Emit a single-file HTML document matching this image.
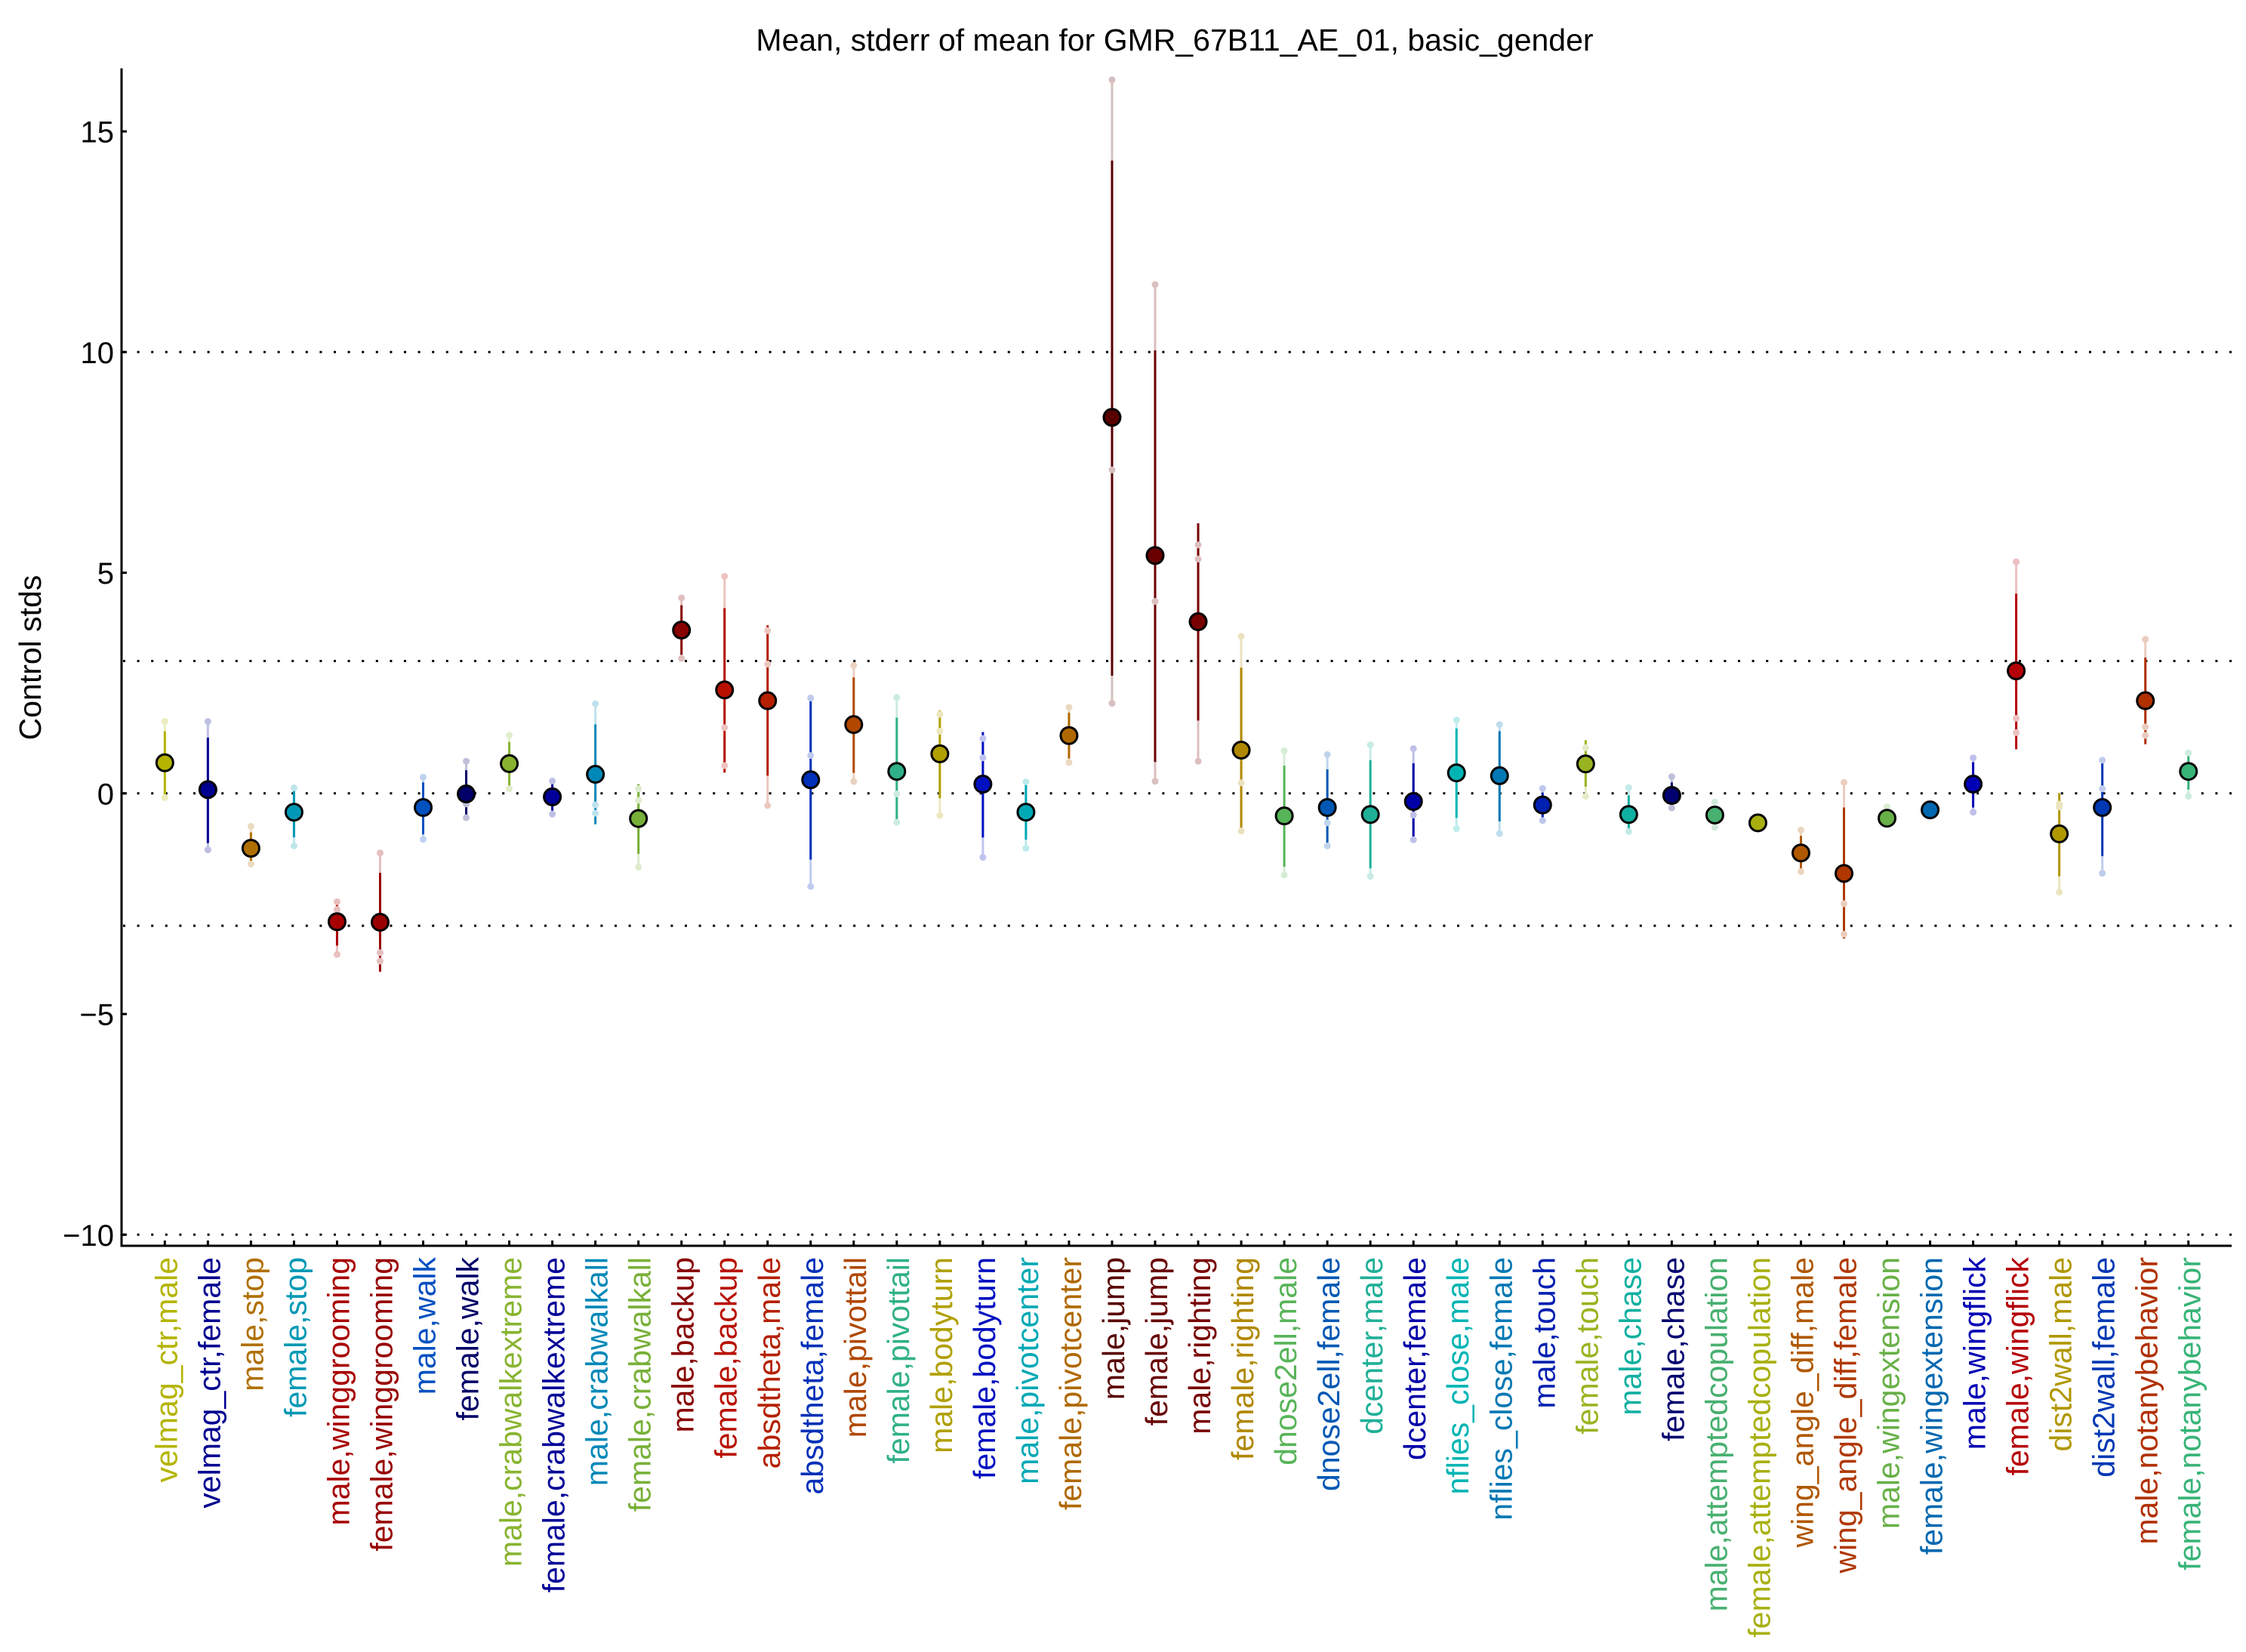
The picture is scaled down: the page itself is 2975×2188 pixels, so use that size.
<!DOCTYPE html>
<html><head><meta charset="utf-8"><style>
html,body{margin:0;padding:0;background:#fff;}
svg{display:block;font-family:"Liberation Sans",Arial,Helvetica,sans-serif;}
</style></head><body>
<svg width="2975" height="2188" viewBox="0 0 2975 2188" xmlns="http://www.w3.org/2000/svg">
<rect width="2975" height="2188" fill="#fff"/>
<text x="1556" y="67" font-size="41" text-anchor="middle" fill="#000">Mean, stderr of mean for GMR_67B11_AE_01, basic_gender</text>
<text transform="translate(54,871) rotate(-90)" font-size="41" text-anchor="middle" fill="#000">Control stds</text>
<g stroke="#000" stroke-width="3" stroke-dasharray="3 15.6">
<line x1="163" y1="466.3" x2="2956" y2="466.3"/>
<line x1="163" y1="875.45" x2="2956" y2="875.45"/>
<line x1="163" y1="1050.8" x2="2956" y2="1050.8"/>
<line x1="163" y1="1226.15" x2="2956" y2="1226.15"/>
<line x1="163" y1="1635.3" x2="2956" y2="1635.3"/>
</g>
<g font-size="40" text-anchor="end" fill="#000">
<text x="151" y="188.5">15</text>
<text x="151" y="480.8">10</text>
<text x="151" y="773">5</text>
<text x="151" y="1065.3">0</text>
<text x="151" y="1357.5">−5</text>
<text x="151" y="1649.8">−10</text>
</g>
<g transform="matrix(1 0 0 -58.45 0 1050.8)" stroke-width="3">
<g transform="translate(218.33 0)"><line y1="1.63" y2="-0.098" stroke="#ececbf"/><line y1="1.408" y2="-0.098" stroke="#b4b400"/><g fill="#ececbf"><ellipse rx="4.5" ry=".077" cy="1.63"/><ellipse rx="4.5" ry=".077" cy="-0.098"/></g></g>
<g transform="translate(275.36 0)"><line y1="1.63" y2="-1.28" stroke="#bfbfe3"/><line y1="1.264" y2="-1.126" stroke="#000090"/><g fill="#bfbfe3"><ellipse rx="4.5" ry=".077" cy="1.63"/><ellipse rx="4.5" ry=".077" cy="-1.28"/></g></g>
<g transform="translate(332.39 0)"><line y1="-0.747" y2="-1.60" stroke="#ebdbbf"/><line y1="-0.884" y2="-1.65" stroke="#b07000"/><g fill="#ebdbbf"><ellipse rx="4.5" ry=".077" cy="-0.747"/><ellipse rx="4.5" ry=".077" cy="-1.60"/></g></g>
<g transform="translate(389.42 0)"><line y1="0.124" y2="-1.19" stroke="#bfe5ec"/><line y1="0.124" y2="-0.995" stroke="#0098b4"/><g fill="#bfe5ec"><ellipse rx="4.5" ry=".077" cy="0.124"/><ellipse rx="4.5" ry=".077" cy="-1.19"/></g></g>
<g transform="translate(446.45 0)"><line y1="-2.456" y2="-3.65" stroke="#e9bfbf"/><line y1="-2.40" y2="-3.45" stroke="#a80000"/><g fill="#e9bfbf"><ellipse rx="4.5" ry=".077" cy="-2.456"/><ellipse rx="4.5" ry=".077" cy="-2.63"/><ellipse rx="4.5" ry=".077" cy="-3.65"/></g></g>
<g transform="translate(503.48 0)"><line y1="-1.35" y2="-3.80" stroke="#e5bfbf"/><line y1="-1.80" y2="-4.04" stroke="#980000"/><g fill="#e5bfbf"><ellipse rx="4.5" ry=".077" cy="-1.35"/><ellipse rx="4.5" ry=".077" cy="-3.61"/><ellipse rx="4.5" ry=".077" cy="-3.80"/></g></g>
<g transform="translate(560.51 0)"><line y1="0.367" y2="-1.04" stroke="#bfd3ef"/><line y1="0.249" y2="-0.93" stroke="#0050c0"/><g fill="#bfd3ef"><ellipse rx="4.5" ry=".077" cy="0.367"/><ellipse rx="4.5" ry=".077" cy="-1.04"/></g></g>
<g transform="translate(617.54 0)"><line y1="0.727" y2="-0.55" stroke="#bfbfd9"/><line y1="0.524" y2="-0.557" stroke="#000068"/><g fill="#bfbfd9"><ellipse rx="4.5" ry=".077" cy="0.727"/><ellipse rx="4.5" ry=".077" cy="-0.24"/><ellipse rx="4.5" ry=".077" cy="-0.55"/></g></g>
<g transform="translate(674.57 0)"><line y1="1.316" y2="0.105" stroke="#e1eccb"/><line y1="1.166" y2="0.15" stroke="#88b430"/><g fill="#e1eccb"><ellipse rx="4.5" ry=".077" cy="1.316"/><ellipse rx="4.5" ry=".077" cy="0.105"/></g></g>
<g transform="translate(731.6 0)"><line y1="0.28" y2="-0.47" stroke="#bfbfe5"/><line y1="0.236" y2="-0.39" stroke="#000098"/><g fill="#bfbfe5"><ellipse rx="4.5" ry=".077" cy="0.28"/><ellipse rx="4.5" ry=".077" cy="-0.47"/></g></g>
<g transform="translate(788.63 0)"><line y1="2.03" y2="-0.45" stroke="#bfe1ed"/><line y1="1.565" y2="-0.70" stroke="#0088b8"/><g fill="#bfe1ed"><ellipse rx="4.5" ry=".077" cy="2.03"/><ellipse rx="4.5" ry=".077" cy="-0.26"/><ellipse rx="4.5" ry=".077" cy="-0.45"/></g></g>
<g transform="translate(845.66 0)"><line y1="0.105" y2="-1.67" stroke="#ddebcd"/><line y1="0.21" y2="-1.37" stroke="#78b038"/><g fill="#ddebcd"><ellipse rx="4.5" ry=".077" cy="0.105"/><ellipse rx="4.5" ry=".077" cy="-0.157"/><ellipse rx="4.5" ry=".077" cy="-1.67"/></g></g>
<g transform="translate(902.69 0)"><line y1="4.43" y2="3.06" stroke="#e1bfbf"/><line y1="4.263" y2="3.143" stroke="#880000"/><g fill="#e1bfbf"><ellipse rx="4.5" ry=".077" cy="4.43"/><ellipse rx="4.5" ry=".077" cy="3.06"/></g></g>
<g transform="translate(959.72 0)"><line y1="4.918" y2="0.63" stroke="#edc3bf"/><line y1="4.198" y2="0.47" stroke="#b81000"/><g fill="#edc3bf"><ellipse rx="4.5" ry=".077" cy="4.918"/><ellipse rx="4.5" ry=".077" cy="1.49"/><ellipse rx="4.5" ry=".077" cy="0.63"/></g></g>
<g transform="translate(1016.75 0)"><line y1="3.687" y2="-0.275" stroke="#ecc7bf"/><line y1="3.81" y2="0.40" stroke="#b42000"/><g fill="#ecc7bf"><ellipse rx="4.5" ry=".077" cy="3.687"/><ellipse rx="4.5" ry=".077" cy="2.93"/><ellipse rx="4.5" ry=".077" cy="-0.275"/></g></g>
<g transform="translate(1073.78 0)"><line y1="2.16" y2="-2.11" stroke="#bfcbed"/><line y1="2.096" y2="-1.50" stroke="#0030b8"/><g fill="#bfcbed"><ellipse rx="4.5" ry=".077" cy="2.16"/><ellipse rx="4.5" ry=".077" cy="0.858"/><ellipse rx="4.5" ry=".077" cy="-2.11"/></g></g>
<g transform="translate(1130.81 0)"><line y1="2.90" y2="0.27" stroke="#ebd1bf"/><line y1="2.626" y2="0.465" stroke="#b04800"/><g fill="#ebd1bf"><ellipse rx="4.5" ry=".077" cy="2.90"/><ellipse rx="4.5" ry=".077" cy="0.27"/></g></g>
<g transform="translate(1187.84 0)"><line y1="2.174" y2="-0.655" stroke="#cbebe1"/><line y1="1.716" y2="-0.70" stroke="#30b088"/><g fill="#cbebe1"><ellipse rx="4.5" ry=".077" cy="2.174"/><ellipse rx="4.5" ry=".077" cy="-0.013"/><ellipse rx="4.5" ry=".077" cy="-0.655"/></g></g>
<g transform="translate(1244.87 0)"><line y1="1.79" y2="-0.50" stroke="#ebe7bf"/><line y1="1.88" y2="-0.11" stroke="#b0a000"/><g fill="#ebe7bf"><ellipse rx="4.5" ry=".077" cy="1.79"/><ellipse rx="4.5" ry=".077" cy="1.41"/><ellipse rx="4.5" ry=".077" cy="-0.50"/></g></g>
<g transform="translate(1301.9 0)"><line y1="1.244" y2="-1.45" stroke="#bfc3ef"/><line y1="1.39" y2="-1.00" stroke="#0010c0"/><g fill="#bfc3ef"><ellipse rx="4.5" ry=".077" cy="1.244"/><ellipse rx="4.5" ry=".077" cy="0.806"/><ellipse rx="4.5" ry=".077" cy="-1.45"/></g></g>
<g transform="translate(1358.93 0)"><line y1="0.262" y2="-1.244" stroke="#bfe9ec"/><line y1="0.20" y2="-1.05" stroke="#00a8b4"/><g fill="#bfe9ec"><ellipse rx="4.5" ry=".077" cy="0.262"/><ellipse rx="4.5" ry=".077" cy="-1.244"/></g></g>
<g transform="translate(1415.96 0)"><line y1="1.95" y2="0.70" stroke="#ebd9bf"/><line y1="1.83" y2="0.79" stroke="#b06800"/><g fill="#ebd9bf"><ellipse rx="4.5" ry=".077" cy="1.95"/><ellipse rx="4.5" ry=".077" cy="0.70"/></g></g>
<g transform="translate(1472.99 0)"><line y1="16.17" y2="2.04" stroke="#d5bfbf"/><line y1="14.34" y2="2.665" stroke="#580000"/><g fill="#d5bfbf"><ellipse rx="4.5" ry=".077" cy="16.17"/><ellipse rx="4.5" ry=".077" cy="7.33"/><ellipse rx="4.5" ry=".077" cy="2.04"/></g></g>
<g transform="translate(1530.02 0)"><line y1="11.53" y2="0.275" stroke="#d9bfbf"/><line y1="10.04" y2="0.71" stroke="#680000"/><g fill="#d9bfbf"><ellipse rx="4.5" ry=".077" cy="11.53"/><ellipse rx="4.5" ry=".077" cy="4.35"/><ellipse rx="4.5" ry=".077" cy="0.275"/></g></g>
<g transform="translate(1587.05 0)"><line y1="5.63" y2="0.73" stroke="#ddbfbf"/><line y1="6.12" y2="1.65" stroke="#780000"/><g fill="#ddbfbf"><ellipse rx="4.5" ry=".077" cy="5.63"/><ellipse rx="4.5" ry=".077" cy="5.31"/><ellipse rx="4.5" ry=".077" cy="0.73"/></g></g>
<g transform="translate(1644.08 0)"><line y1="3.56" y2="-0.85" stroke="#ebe1bf"/><line y1="2.85" y2="-0.85" stroke="#b08800"/><g fill="#ebe1bf"><ellipse rx="4.5" ry=".077" cy="3.56"/><ellipse rx="4.5" ry=".077" cy="0.24"/><ellipse rx="4.5" ry=".077" cy="-0.85"/></g></g>
<g transform="translate(1701.11 0)"><line y1="0.963" y2="-1.85" stroke="#d5ecd5"/><line y1="0.629" y2="-1.66" stroke="#58b458"/><g fill="#d5ecd5"><ellipse rx="4.5" ry=".077" cy="0.963"/><ellipse rx="4.5" ry=".077" cy="-1.85"/></g></g>
<g transform="translate(1758.14 0)"><line y1="0.878" y2="-1.19" stroke="#bfd5ec"/><line y1="0.544" y2="-1.19" stroke="#0058b4"/><g fill="#bfd5ec"><ellipse rx="4.5" ry=".077" cy="0.878"/><ellipse rx="4.5" ry=".077" cy="-0.668"/><ellipse rx="4.5" ry=".077" cy="-1.19"/></g></g>
<g transform="translate(1815.17 0)"><line y1="1.10" y2="-1.88" stroke="#c7ebe5"/><line y1="0.753" y2="-1.70" stroke="#20b098"/><g fill="#c7ebe5"><ellipse rx="4.5" ry=".077" cy="1.10"/><ellipse rx="4.5" ry=".077" cy="-1.88"/></g></g>
<g transform="translate(1872.2 0)"><line y1="1.015" y2="-1.05" stroke="#bfbfe9"/><line y1="0.681" y2="-1.05" stroke="#0000a8"/><g fill="#bfbfe9"><ellipse rx="4.5" ry=".077" cy="1.015"/><ellipse rx="4.5" ry=".077" cy="-0.49"/><ellipse rx="4.5" ry=".077" cy="-1.05"/></g></g>
<g transform="translate(1929.23 0)"><line y1="1.663" y2="-0.80" stroke="#bfecec"/><line y1="1.473" y2="-0.557" stroke="#00b4b4"/><g fill="#bfecec"><ellipse rx="4.5" ry=".077" cy="1.663"/><ellipse rx="4.5" ry=".077" cy="-0.80"/></g></g>
<g transform="translate(1986.26 0)"><line y1="1.558" y2="-0.91" stroke="#bfddec"/><line y1="1.41" y2="-0.635" stroke="#0078b4"/><g fill="#bfddec"><ellipse rx="4.5" ry=".077" cy="1.558"/><ellipse rx="4.5" ry=".077" cy="-0.91"/></g></g>
<g transform="translate(2043.29 0)"><line y1="0.111" y2="-0.616" stroke="#bfc7eb"/><line y1="0.02" y2="-0.557" stroke="#0020b0"/><g fill="#bfc7eb"><ellipse rx="4.5" ry=".077" cy="0.111"/><ellipse rx="4.5" ry=".077" cy="-0.616"/></g></g>
<g transform="translate(2100.32 0)"><line y1="1.035" y2="-0.065" stroke="#e5ecc7"/><line y1="1.205" y2="0.15" stroke="#98b420"/><g fill="#e5ecc7"><ellipse rx="4.5" ry=".077" cy="1.035"/><ellipse rx="4.5" ry=".077" cy="-0.065"/></g></g>
<g transform="translate(2157.35 0)"><line y1="0.13" y2="-0.864" stroke="#c3ebe7"/><line y1="-0.046" y2="-0.864" stroke="#10b0a0"/><g fill="#c3ebe7"><ellipse rx="4.5" ry=".077" cy="0.13"/><ellipse rx="4.5" ry=".077" cy="-0.864"/></g></g>
<g transform="translate(2214.38 0)"><line y1="0.38" y2="-0.33" stroke="#bfbfdb"/><line y1="0.249" y2="-0.373" stroke="#000070"/><g fill="#bfbfdb"><ellipse rx="4.5" ry=".077" cy="0.38"/><ellipse rx="4.5" ry=".077" cy="-0.33"/></g></g>
<g transform="translate(2271.41 0)"><line y1="-0.196" y2="-0.766" stroke="#d1ebdb"/><line y1="-0.3" y2="-0.68" stroke="#48b070"/><g fill="#d1ebdb"><ellipse rx="4.5" ry=".077" cy="-0.196"/><ellipse rx="4.5" ry=".077" cy="-0.766"/></g></g>
<g transform="translate(2328.44 0)"><line y1="-0.6" y2="-0.74" stroke="#a8b010"/></g>
<g transform="translate(2385.47 0)"><line y1="-0.83" y2="-1.77" stroke="#ebd5bf"/><line y1="-0.963" y2="-1.75" stroke="#b05800"/><g fill="#ebd5bf"><ellipse rx="4.5" ry=".077" cy="-0.83"/><ellipse rx="4.5" ry=".077" cy="-1.77"/></g></g>
<g transform="translate(2442.5 0)"><line y1="0.249" y2="-3.19" stroke="#ebcdbf"/><line y1="-0.32" y2="-3.29" stroke="#b03800"/><g fill="#ebcdbf"><ellipse rx="4.5" ry=".077" cy="0.249"/><ellipse rx="4.5" ry=".077" cy="-2.50"/><ellipse rx="4.5" ry=".077" cy="-3.19"/></g></g>
<g transform="translate(2499.53 0)"><line y1="-0.45" y2="-0.68" stroke="#68b048"/><g fill="#d9ebd1"><ellipse rx="4.5" ry=".077" cy="-0.308"/></g></g>
<g transform="translate(2556.56 0)"><line y1="-0.3" y2="-0.45" stroke="#0068b0"/></g>
<g transform="translate(2613.59 0)"><line y1="0.806" y2="-0.426" stroke="#bfbfec"/><line y1="0.707" y2="-0.32" stroke="#0000b4"/><g fill="#bfbfec"><ellipse rx="4.5" ry=".077" cy="0.806"/><ellipse rx="4.5" ry=".077" cy="-0.426"/></g></g>
<g transform="translate(2670.62 0)"><line y1="5.246" y2="1.375" stroke="#ecbfc1"/><line y1="4.525" y2="1.00" stroke="#b40008"/><g fill="#ecbfc1"><ellipse rx="4.5" ry=".077" cy="5.246"/><ellipse rx="4.5" ry=".077" cy="1.70"/><ellipse rx="4.5" ry=".077" cy="1.375"/></g></g>
<g transform="translate(2727.65 0)"><line y1="-0.242" y2="-2.24" stroke="#ebe5bf"/><line y1="0.0065" y2="-1.88" stroke="#b09800"/><g fill="#ebe5bf"><ellipse rx="4.5" ry=".077" cy="-0.242"/><ellipse rx="4.5" ry=".077" cy="-0.31"/><ellipse rx="4.5" ry=".077" cy="-2.24"/></g></g>
<g transform="translate(2784.68 0)"><line y1="0.753" y2="-1.81" stroke="#bfcdec"/><line y1="0.753" y2="-1.42" stroke="#0038b4"/><g fill="#bfcdec"><ellipse rx="4.5" ry=".077" cy="0.753"/><ellipse rx="4.5" ry=".077" cy="0.105"/><ellipse rx="4.5" ry=".077" cy="-1.81"/></g></g>
<g transform="translate(2841.71 0)"><line y1="3.49" y2="1.316" stroke="#ebcbbf"/><line y1="3.078" y2="1.113" stroke="#b03000"/><g fill="#ebcbbf"><ellipse rx="4.5" ry=".077" cy="3.49"/><ellipse rx="4.5" ry=".077" cy="1.506"/><ellipse rx="4.5" ry=".077" cy="1.316"/></g></g>
<g transform="translate(2898.74 0)"><line y1="0.917" y2="-0.065" stroke="#cdecdd"/><line y1="0.9" y2="0.085" stroke="#38b478"/><g fill="#cdecdd"><ellipse rx="4.5" ry=".077" cy="0.917"/><ellipse rx="4.5" ry=".077" cy="-0.065"/></g></g>
</g>
<g stroke="#000" stroke-width="3">
<circle cx="218.33" cy="1010.24" r="11" fill="#b4b400"/>
<circle cx="275.36" cy="1045.83" r="11" fill="#000090"/>
<circle cx="332.39" cy="1123.51" r="11" fill="#b07000"/>
<circle cx="389.42" cy="1075.70" r="11" fill="#0098b4"/>
<circle cx="446.45" cy="1220.77" r="11" fill="#a80000"/>
<circle cx="503.48" cy="1221.47" r="11" fill="#980000"/>
<circle cx="560.51" cy="1069.50" r="11" fill="#0050c0"/>
<circle cx="617.54" cy="1051.56" r="11" fill="#000068"/>
<circle cx="674.57" cy="1011.35" r="11" fill="#88b430"/>
<circle cx="731.6" cy="1055.42" r="11" fill="#000098"/>
<circle cx="788.63" cy="1025.55" r="11" fill="#0088b8"/>
<circle cx="845.66" cy="1084.12" r="11" fill="#78b038"/>
<circle cx="902.69" cy="834.53" r="11" fill="#880000"/>
<circle cx="959.72" cy="913.79" r="11" fill="#b81000"/>
<circle cx="1016.75" cy="928.05" r="11" fill="#b42000"/>
<circle cx="1073.78" cy="1032.80" r="11" fill="#0030b8"/>
<circle cx="1130.81" cy="959.68" r="11" fill="#b04800"/>
<circle cx="1187.84" cy="1021.69" r="11" fill="#30b088"/>
<circle cx="1244.87" cy="998.37" r="11" fill="#b0a000"/>
<circle cx="1301.9" cy="1038.53" r="11" fill="#0010c0"/>
<circle cx="1358.93" cy="1075.70" r="11" fill="#00a8b4"/>
<circle cx="1415.96" cy="974.23" r="11" fill="#b06800"/>
<circle cx="1472.99" cy="552.81" r="11" fill="#580000"/>
<circle cx="1530.02" cy="735.75" r="11" fill="#680000"/>
<circle cx="1587.05" cy="823.43" r="11" fill="#780000"/>
<circle cx="1644.08" cy="993.52" r="11" fill="#b08800"/>
<circle cx="1701.11" cy="1080.61" r="11" fill="#58b458"/>
<circle cx="1758.14" cy="1069.50" r="11" fill="#0058b4"/>
<circle cx="1815.17" cy="1078.74" r="11" fill="#20b098"/>
<circle cx="1872.2" cy="1061.50" r="11" fill="#0000a8"/>
<circle cx="1929.23" cy="1023.62" r="11" fill="#00b4b4"/>
<circle cx="1986.26" cy="1027.42" r="11" fill="#0078b4"/>
<circle cx="2043.29" cy="1066.11" r="11" fill="#0020b0"/>
<circle cx="2100.32" cy="1011.76" r="11" fill="#98b420"/>
<circle cx="2157.35" cy="1078.74" r="11" fill="#10b0a0"/>
<circle cx="2214.38" cy="1053.49" r="11" fill="#000070"/>
<circle cx="2271.41" cy="1079.44" r="11" fill="#48b070"/>
<circle cx="2328.44" cy="1089.84" r="11" fill="#a8b010"/>
<circle cx="2385.47" cy="1129.71" r="11" fill="#b05800"/>
<circle cx="2442.5" cy="1156.83" r="11" fill="#b03800"/>
<circle cx="2499.53" cy="1083.71" r="11" fill="#68b048"/>
<circle cx="2556.56" cy="1072.60" r="11" fill="#0068b0"/>
<circle cx="2613.59" cy="1038.53" r="11" fill="#0000b4"/>
<circle cx="2670.62" cy="888.48" r="11" fill="#b40008"/>
<circle cx="2727.65" cy="1104.40" r="11" fill="#b09800"/>
<circle cx="2784.68" cy="1069.50" r="11" fill="#0038b4"/>
<circle cx="2841.71" cy="928.05" r="11" fill="#b03000"/>
<circle cx="2898.74" cy="1021.69" r="11" fill="#38b478"/>
</g>
<g stroke="#000" stroke-width="3" fill="none">
<line x1="161" y1="90.5" x2="161" y2="1651.5"/>
<line x1="159.5" y1="1650" x2="2956" y2="1650"/>
<line x1="161" y1="174.05" x2="168" y2="174.05"/>
<line x1="161" y1="466.3" x2="168" y2="466.3"/>
<line x1="161" y1="758.55" x2="168" y2="758.55"/>
<line x1="161" y1="1050.8" x2="168" y2="1050.8"/>
<line x1="161" y1="1343.05" x2="168" y2="1343.05"/>
<line x1="161" y1="1635.3" x2="168" y2="1635.3"/>
<path d="M218.33 1650v-7M275.36 1650v-7M332.39 1650v-7M389.42 1650v-7M446.45 1650v-7M503.48 1650v-7M560.51 1650v-7M617.54 1650v-7M674.57 1650v-7M731.6 1650v-7M788.63 1650v-7M845.66 1650v-7M902.69 1650v-7M959.72 1650v-7M1016.75 1650v-7M1073.78 1650v-7M1130.81 1650v-7M1187.84 1650v-7M1244.87 1650v-7M1301.9 1650v-7M1358.93 1650v-7M1415.96 1650v-7M1472.99 1650v-7M1530.02 1650v-7M1587.05 1650v-7M1644.08 1650v-7M1701.11 1650v-7M1758.14 1650v-7M1815.17 1650v-7M1872.2 1650v-7M1929.23 1650v-7M1986.26 1650v-7M2043.29 1650v-7M2100.32 1650v-7M2157.35 1650v-7M2214.38 1650v-7M2271.41 1650v-7M2328.44 1650v-7M2385.47 1650v-7M2442.5 1650v-7M2499.53 1650v-7M2556.56 1650v-7M2613.59 1650v-7M2670.62 1650v-7M2727.65 1650v-7M2784.68 1650v-7M2841.71 1650v-7M2898.74 1650v-7"/>
</g>
<g font-size="41" text-anchor="end">
<text transform="translate(234.33,1665) rotate(-90)" fill="#b4b400">velmag_ctr,male</text>
<text transform="translate(291.36,1665) rotate(-90)" fill="#000090">velmag_ctr,female</text>
<text transform="translate(348.39,1665) rotate(-90)" fill="#b07000">male,stop</text>
<text transform="translate(405.42,1665) rotate(-90)" fill="#0098b4">female,stop</text>
<text transform="translate(462.45,1665) rotate(-90)" fill="#a80000">male,winggrooming</text>
<text transform="translate(519.48,1665) rotate(-90)" fill="#980000">female,winggrooming</text>
<text transform="translate(576.51,1665) rotate(-90)" fill="#0050c0">male,walk</text>
<text transform="translate(633.54,1665) rotate(-90)" fill="#000068">female,walk</text>
<text transform="translate(690.57,1665) rotate(-90)" fill="#88b430">male,crabwalkextreme</text>
<text transform="translate(747.6,1665) rotate(-90)" fill="#000098">female,crabwalkextreme</text>
<text transform="translate(804.63,1665) rotate(-90)" fill="#0088b8">male,crabwalkall</text>
<text transform="translate(861.66,1665) rotate(-90)" fill="#78b038">female,crabwalkall</text>
<text transform="translate(918.69,1665) rotate(-90)" fill="#880000">male,backup</text>
<text transform="translate(975.72,1665) rotate(-90)" fill="#b81000">female,backup</text>
<text transform="translate(1032.75,1665) rotate(-90)" fill="#b42000">absdtheta,male</text>
<text transform="translate(1089.78,1665) rotate(-90)" fill="#0030b8">absdtheta,female</text>
<text transform="translate(1146.81,1665) rotate(-90)" fill="#b04800">male,pivottail</text>
<text transform="translate(1203.84,1665) rotate(-90)" fill="#30b088">female,pivottail</text>
<text transform="translate(1260.87,1665) rotate(-90)" fill="#b0a000">male,bodyturn</text>
<text transform="translate(1317.9,1665) rotate(-90)" fill="#0010c0">female,bodyturn</text>
<text transform="translate(1374.93,1665) rotate(-90)" fill="#00a8b4">male,pivotcenter</text>
<text transform="translate(1431.96,1665) rotate(-90)" fill="#b06800">female,pivotcenter</text>
<text transform="translate(1488.99,1665) rotate(-90)" fill="#580000">male,jump</text>
<text transform="translate(1546.02,1665) rotate(-90)" fill="#680000">female,jump</text>
<text transform="translate(1603.05,1665) rotate(-90)" fill="#780000">male,righting</text>
<text transform="translate(1660.08,1665) rotate(-90)" fill="#b08800">female,righting</text>
<text transform="translate(1717.11,1665) rotate(-90)" fill="#58b458">dnose2ell,male</text>
<text transform="translate(1774.14,1665) rotate(-90)" fill="#0058b4">dnose2ell,female</text>
<text transform="translate(1831.17,1665) rotate(-90)" fill="#20b098">dcenter,male</text>
<text transform="translate(1888.2,1665) rotate(-90)" fill="#0000a8">dcenter,female</text>
<text transform="translate(1945.23,1665) rotate(-90)" fill="#00b4b4">nflies_close,male</text>
<text transform="translate(2002.26,1665) rotate(-90)" fill="#0078b4">nflies_close,female</text>
<text transform="translate(2059.29,1665) rotate(-90)" fill="#0020b0">male,touch</text>
<text transform="translate(2116.32,1665) rotate(-90)" fill="#98b420">female,touch</text>
<text transform="translate(2173.35,1665) rotate(-90)" fill="#10b0a0">male,chase</text>
<text transform="translate(2230.38,1665) rotate(-90)" fill="#000070">female,chase</text>
<text transform="translate(2287.41,1665) rotate(-90)" fill="#48b070">male,attemptedcopulation</text>
<text transform="translate(2344.44,1665) rotate(-90)" fill="#a8b010">female,attemptedcopulation</text>
<text transform="translate(2401.47,1665) rotate(-90)" fill="#b05800">wing_angle_diff,male</text>
<text transform="translate(2458.5,1665) rotate(-90)" fill="#b03800">wing_angle_diff,female</text>
<text transform="translate(2515.53,1665) rotate(-90)" fill="#68b048">male,wingextension</text>
<text transform="translate(2572.56,1665) rotate(-90)" fill="#0068b0">female,wingextension</text>
<text transform="translate(2629.59,1665) rotate(-90)" fill="#0000b4">male,wingflick</text>
<text transform="translate(2686.62,1665) rotate(-90)" fill="#b40008">female,wingflick</text>
<text transform="translate(2743.65,1665) rotate(-90)" fill="#b09800">dist2wall,male</text>
<text transform="translate(2800.68,1665) rotate(-90)" fill="#0038b4">dist2wall,female</text>
<text transform="translate(2857.71,1665) rotate(-90)" fill="#b03000">male,notanybehavior</text>
<text transform="translate(2914.74,1665) rotate(-90)" fill="#38b478">female,notanybehavior</text>
</g>
</svg>
</body></html>
